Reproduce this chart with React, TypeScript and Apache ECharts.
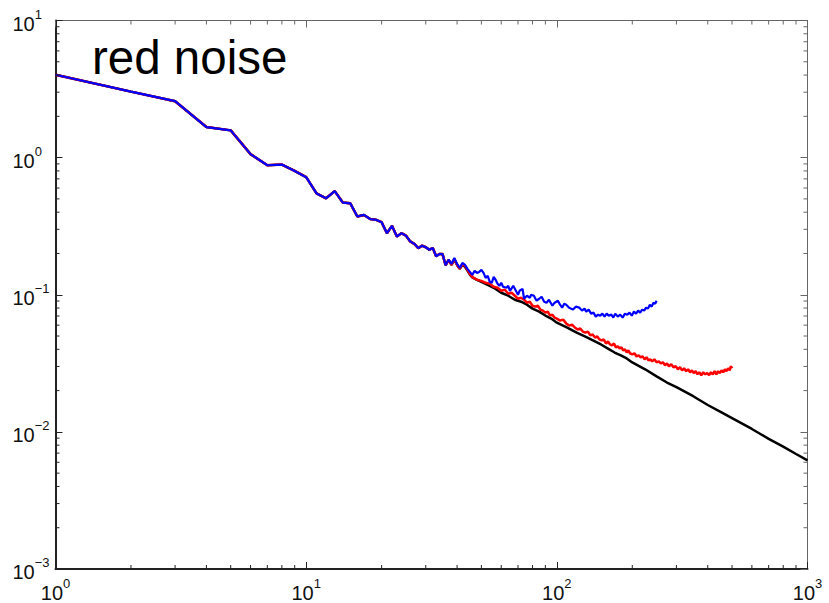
import React, { useEffect, useRef } from "react";
import * as echarts from "echarts";

// Shared low-frequency part (all three spectra coincide here)
const lowFreq = [1, 2, 3, 4, 5, 6, 7, 8, 9, 10, 11, 12, 13, 14, 15, 16, 17, 18, 19, 20, 21, 22, 23, 24, 25, 26, 27, 28, 29, 30, 31, 32, 33, 34, 35, 36, 37];
const lowPower = [4.02, 3.03, 2.58, 1.67, 1.58, 1.06, 0.88, 0.89, 0.8, 0.72, 0.548, 0.505, 0.57, 0.47, 0.464, 0.372, 0.382, 0.357, 0.352, 0.338, 0.281, 0.318, 0.266, 0.281, 0.27, 0.245, 0.235, 0.219, 0.228, 0.222, 0.213, 0.219, 0.191, 0.198, 0.198, 0.164, 0.18];

// Blue tail (ends near f = 250)
const blueFreq = [38, 39, 40, 41, 42, 43, 44, 45, 46, 47, 48, 49, 50, 51, 52, 53, 54, 55, 56, 57, 58, 59, 60, 61,
  63, 64, 65, 67, 68, 70, 71, 73, 74, 76, 78, 79, 81, 83, 85, 87, 89, 91, 93, 96, 98,
  101, 103, 105, 107, 109, 112, 116, 119, 123, 126, 129, 131, 134, 137, 140, 143, 146, 149, 152, 155, 158, 161,
  165, 168, 171, 175, 179, 183, 187, 191, 195, 199, 203, 207, 211, 215, 219, 223, 227, 231, 235, 239, 243, 247, 250];
const bluePower = [0.1678, 0.1854, 0.1678, 0.1569, 0.1706, 0.165, 0.1543, 0.1468, 0.1396, 0.1493, 0.1444, 0.1468, 0.1518, 0.1444, 0.1328, 0.1373, 0.1242, 0.1222, 0.135, 0.1285, 0.1202, 0.1162, 0.1222, 0.1143,
  0.1124, 0.1162, 0.1069, 0.1162, 0.1105, 0.1, 0.1069, 0.1105, 0.0935, 0.0983, 0.0951, 0.1, 0.0983, 0.0905, 0.0935, 0.0967, 0.089, 0.0875, 0.092, 0.0832, 0.0875,
  0.0905, 0.0846, 0.0805, 0.0861, 0.0846, 0.0805, 0.0779, 0.0819, 0.0805, 0.0766, 0.0792, 0.0753, 0.0779, 0.0728, 0.0741, 0.0693, 0.0716, 0.0704, 0.0728, 0.0693, 0.0728, 0.0704,
  0.0716, 0.0681, 0.0728, 0.0693, 0.0716, 0.0681, 0.0728, 0.0716, 0.0741, 0.0704, 0.0753, 0.0728, 0.0766, 0.0741, 0.0779, 0.0766, 0.0805, 0.0792, 0.0846, 0.0819, 0.0875, 0.0861, 0.0905];

// Red tail (ends near f = 500)
const redFreq = [38, 39, 40, 41, 42, 43, 44, 45, 46,
  48, 50, 52, 54, 56, 58, 60, 62, 64, 66, 68, 70, 72, 74, 76, 78, 80, 82, 84, 86, 88, 90, 92, 94, 96, 98, 100,
  103, 106, 109, 112, 115, 118, 121, 124, 127, 130, 133, 136, 139, 142, 145, 148, 151, 154, 157, 160, 163, 166, 169, 172, 175, 178, 181, 184, 187, 190, 193, 196, 200,
  204, 208, 212, 216, 220, 224, 228, 232, 236, 240, 245, 250, 255, 260, 265, 270, 275, 280, 286, 292, 298,
  304, 310, 316, 322, 328, 334, 340, 346, 352, 358, 364, 370, 377, 384, 391, 398, 405, 412, 419, 426, 433, 440, 447, 454, 461, 468, 475, 482, 489, 495, 500];
const redPower = [0.165, 0.1824, 0.165, 0.1543, 0.1678, 0.1623, 0.1518, 0.142, 0.135,
  0.1285, 0.1263, 0.1222, 0.1202, 0.1143, 0.1124, 0.1069, 0.1087, 0.1017, 0.1034, 0.0983, 0.0935, 0.0951, 0.092, 0.0875, 0.089, 0.0832, 0.0819, 0.0832, 0.0779, 0.0766, 0.0741, 0.0753, 0.0704, 0.0716, 0.0681, 0.067,
  0.0648, 0.0659, 0.0616, 0.0596, 0.0606, 0.0577, 0.0558, 0.0567, 0.0539, 0.053, 0.0539, 0.0505, 0.0513, 0.0488, 0.0496, 0.0472, 0.0464, 0.0472, 0.0441, 0.0456, 0.0434, 0.0427, 0.0441, 0.0413, 0.042, 0.0406, 0.0413, 0.0393, 0.0399, 0.038, 0.0393, 0.0374, 0.0367,
  0.0374, 0.0355, 0.0361, 0.035, 0.0355, 0.0338, 0.035, 0.0332, 0.0338, 0.0327, 0.0338, 0.0322, 0.0327, 0.0316, 0.0322, 0.0306, 0.0316, 0.0301, 0.0311, 0.0296, 0.0301,
  0.0286, 0.0296, 0.0281, 0.0291, 0.0277, 0.0286, 0.0272, 0.0281, 0.0268, 0.0277, 0.0263, 0.0272, 0.0259, 0.0272, 0.0263, 0.0268, 0.0259, 0.0272, 0.0263, 0.0277, 0.0263, 0.0277, 0.0268, 0.0281, 0.0272, 0.0286, 0.0277, 0.0291, 0.0281, 0.0301, 0.0291];

// Black tail (ends at f = 1000)
const blackFreq = [38, 39, 40, 41, 42, 43, 44, 45, 46,
  48, 50, 53, 56, 60, 64, 68, 72, 76, 80, 85, 90, 95, 100,
  110, 120, 130, 140, 150, 160, 170, 180, 190, 200,
  225, 250, 275, 300, 350, 400, 450, 500, 600, 700, 800, 900, 1000];
const blackPower = [0.165, 0.18, 0.165, 0.1543, 0.165, 0.16, 0.15, 0.14, 0.134,
  0.1285, 0.1243, 0.1182, 0.1124, 0.1034, 0.0984, 0.092, 0.089, 0.0846, 0.0792, 0.0753, 0.0705, 0.067, 0.0626,
  0.0576, 0.053, 0.0495, 0.0463, 0.0434, 0.0405, 0.0379, 0.0361, 0.0343, 0.0321,
  0.0286, 0.0254, 0.0229, 0.0212, 0.0182, 0.0157, 0.014, 0.0126, 0.0105, 0.0089, 0.0078, 0.0069, 0.0062];

const xMin = 1;
const xMax = 1000;
const yMin = 0.001;
const yMax = 10;
const titleText = "red noise";

const FONT = '"Liberation Sans", Arial, Helvetica, sans-serif';

function minorTicks(lo: number, hi: number): number[] {
  const out: number[] = [];
  for (let e = Math.round(Math.log10(lo)); e < Math.round(Math.log10(hi)); e++) {
    for (let k = 2; k <= 9; k++) out.push(parseFloat((k * Math.pow(10, e)).toPrecision(6)));
  }
  return out;
}

function pairs(fa: number[], pa: number[]): number[][] {
  return fa.map((f, i) => [f, pa[i]]);
}

const richLabel = {
  b: { fontSize: 20, lineHeight: 26, fontFamily: FONT, color: "#111", verticalAlign: "bottom" },
  s: { fontSize: 13, lineHeight: 13, fontFamily: FONT, color: "#111", verticalAlign: "top" },
};

function powFormatter(v: number) {
  const e = Math.round(Math.log10(v));
  const s = e < 0 ? "\u2212" + Math.abs(e) : String(e);
  return "{b|10}{s|" + s + "}";
}

export default function App() {
  const ref = useRef<HTMLDivElement>(null);
  useEffect(() => {
    if (!ref.current) return;
    const chart = echarts.init(ref.current, null, { renderer: "svg" });
    const darkAxis = "#222";
    const lightAxis = "#666";
    const xm = minorTicks(xMin, xMax);
    const ym = minorTicks(yMin, yMax);
    const option: any = {
      animation: false,
      backgroundColor: "#fff",
      grid: { left: 55.5, right: 21.5, top: 20.5, bottom: 29.5, containLabel: false },
      xAxis: [
        {
          type: "log", logBase: 10, min: xMin, max: xMax, position: "bottom",
          axisLine: { show: true, onZero: false, lineStyle: { color: darkAxis, width: 2 } },
          axisTick: { show: true, inside: true, length: 7, lineStyle: { color: darkAxis, width: 1 } },
          axisLabel: { show: true, margin: 8, fontSize: 20, fontFamily: FONT, color: "#111", formatter: powFormatter, rich: richLabel },
          splitLine: { show: false },
          minorTick: { show: false },
        },
        {
          type: "log", logBase: 10, min: xMin, max: xMax, position: "top",
          axisLine: { show: true, onZero: false, lineStyle: { color: lightAxis, width: 1 } },
          axisTick: { show: true, inside: true, length: 7, lineStyle: { color: lightAxis, width: 1 } },
          axisLabel: { show: false },
          splitLine: { show: false },
        },
      ],
      yAxis: [
        {
          type: "log", logBase: 10, min: yMin, max: yMax, position: "left",
          axisLine: { show: true, onZero: false, lineStyle: { color: darkAxis, width: 2 } },
          axisTick: { show: true, inside: true, length: 7, lineStyle: { color: darkAxis, width: 1 } },
          axisLabel: { show: true, margin: 43, align: "left", fontSize: 20, fontFamily: FONT, color: "#111", formatter: powFormatter, rich: richLabel },
          splitLine: { show: false },
        },
        {
          type: "log", logBase: 10, min: yMin, max: yMax, position: "right",
          axisLine: { show: true, onZero: false, lineStyle: { color: lightAxis, width: 1 } },
          axisTick: { show: true, inside: true, length: 7, lineStyle: { color: lightAxis, width: 1 } },
          axisLabel: { show: false },
          splitLine: { show: false },
        },
      ],
      graphic: [
        {
          type: "text", x: 92, y: 57, silent: true,
          style: { text: titleText, fontSize: 47.5, fontFamily: FONT, fill: "#000", align: "left", verticalAlign: "middle" },
        },
      ],
      series: [
        {
          type: "line", name: "true", data: pairs(lowFreq, lowPower).concat(pairs(blackFreq, blackPower)),
          showSymbol: false, symbol: "none", lineStyle: { color: "#000", width: 2.5 }, itemStyle: { color: "#000" }, z: 2,
        },
        {
          type: "line", name: "red", data: pairs(lowFreq, lowPower).concat(pairs(redFreq, redPower)),
          showSymbol: false, symbol: "none", lineStyle: { color: "#ff0000", width: 2.5 }, itemStyle: { color: "#ff0000" }, z: 3,
        },
        {
          type: "line", name: "blue", data: pairs(lowFreq, lowPower).concat(pairs(blueFreq, bluePower)),
          showSymbol: false, symbol: "none", lineStyle: { color: "#0000ff", width: 2.2 }, itemStyle: { color: "#0000ff" }, z: 4,
        },
        {
          type: "custom", silent: true, z: 5,
          data: xm.map((v) => [v, 1]),
          renderItem: (params: any, api: any) => {
            const v = api.value(0);
            const b = api.coord([v, yMin]);
            const t = api.coord([v, yMax]);
            return {
              type: "group",
              children: [
                { type: "line", shape: { x1: b[0], y1: b[1], x2: b[0], y2: b[1] - 4 }, style: { stroke: darkAxis, lineWidth: 1 } },
                { type: "line", shape: { x1: t[0], y1: t[1], x2: t[0], y2: t[1] + 4 }, style: { stroke: lightAxis, lineWidth: 1 } },
              ],
            };
          },
        },
        {
          type: "custom", silent: true, z: 5,
          data: ym.map((v) => [1, v]),
          renderItem: (params: any, api: any) => {
            const v = api.value(1);
            const l = api.coord([xMin, v]);
            const r = api.coord([xMax, v]);
            return {
              type: "group",
              children: [
                { type: "line", shape: { x1: l[0], y1: l[1], x2: l[0] + 4, y2: l[1] }, style: { stroke: darkAxis, lineWidth: 1 } },
                { type: "line", shape: { x1: r[0], y1: r[1], x2: r[0] - 4, y2: r[1] }, style: { stroke: lightAxis, lineWidth: 1 } },
              ],
            };
          },
        },
      ],
    };
    chart.setOption(option);
    return () => chart.dispose();
  }, []);
  return (
    <div
      ref={ref}
      style={{ position: "fixed", left: 0, top: 0, width: 829, height: 603, background: "#fff" }}
    />
  );
}
